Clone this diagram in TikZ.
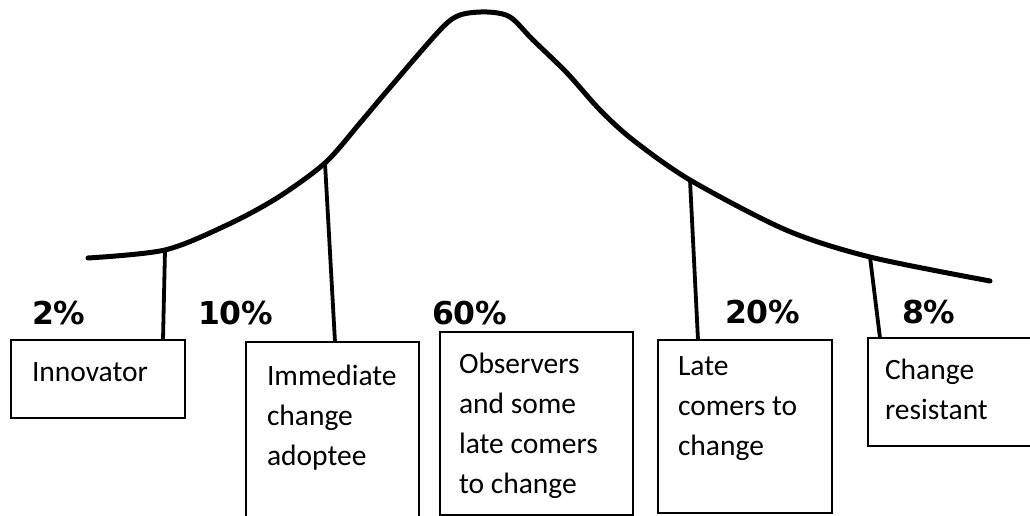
\documentclass[tikz,border=0pt]{standalone}
\usepackage{fontspec}
\setmainfont{Carlito}
\newfontfamily\pctfont{DejaVu Sans}
\begin{document}
\begin{tikzpicture}[x=1pt,y=1pt,
  curveLine/.style={draw=drawColor,line width= 5.0pt,line join=round,line cap=round},
  linkLine/.style={draw=drawColor,line width= 3.8pt},
  groupBox/.style={draw=drawColor,fill=fillColor,line width= 1.6pt,anchor=north west,inner sep=0pt,outer sep=0pt},
  groupText/.style={text=drawColor,anchor=north west,align=left,inner sep=0pt,outer sep=0pt,font=\fontsize{29.5}{40}\selectfont},
  shareText/.style={text=drawColor,anchor=base west,inner sep=0pt,outer sep=0pt,font=\pctfont\bfseries\fontsize{31.5}{36}\selectfont}]
\definecolor{drawColor}{RGB}{0,0,0}
\definecolor{fillColor}{RGB}{255,255,255}
\path[use as bounding box,fill=fillColor] (  0.00,  0.00) rectangle (1030.00,516.00);
\begin{scope}
% bell curve
\path[curveLine] plot[smooth] coordinates {( 88.00,258.00) (165.00,266.00) (227.00,291.00) (277.00,318.00) (325.00,353.00) (360.00,393.00) (387.00,425.00) (440.00,486.00) (460.00,501.00) (487.00,504.00) (510.00,499.00) (533.00,476.00) (567.00,443.00) (600.00,406.00) (633.00,376.00) (690.00,336.00) (786.00,286.00) (870.00,259.00) (990.00,235.00)};
\end{scope}
\coordinate (innTop) at (165.00,266.00);
\coordinate (immTop) at (325.00,353.00);
\coordinate (lateTop) at (690.00,336.00);
\coordinate (resTop) at (870.00,259.00);
\coordinate (innFoot) at (163.00,176.00);
\coordinate (immFoot) at (335.00,174.00);
\coordinate (lateFoot) at (698.00,176.00);
\coordinate (resFoot) at (880.00,178.00);
\begin{scope}
\path[linkLine] (innTop) -- (innFoot);
\path[linkLine] (immTop) -- (immFoot);
\path[linkLine] (lateTop) -- (lateFoot);
\path[linkLine] (resTop) -- (resFoot);
\end{scope}
\begin{scope}
\node[groupBox,minimum width=174pt,minimum height= 78pt] (innBox) at ( 11.00,176.00) {};
\node[groupBox,minimum width=173pt,minimum height=195pt] (immBox) at (246.00,174.00) {};
\node[groupBox,minimum width=193pt,minimum height=183pt] (obsBox) at (440.00,184.00) {};
\node[groupBox,minimum width=174pt,minimum height=173pt] (lateBox) at (658.00,176.00) {};
\node[groupBox,minimum width=170pt,minimum height=108pt] (resBox) at (868.00,178.00) {};
\end{scope}
\begin{scope}
\node[groupText] (innText) at ( 32.00,162.00) {\strut Innovator};
\node[groupText] (immText) at (267.00,158.00) {\strut Immediate\\change\\adoptee};
\node[groupText] (obsText) at (459.00,170.00) {\strut Observers\\and some\\late comers\\to change};
\node[groupText] (lateText) at (678.00,168.00) {\strut Late\\comers to\\change};
\node[groupText] (resText) at (885.00,164.00) {\strut Change\\resistant};
\end{scope}
\begin{scope}
\node[shareText] (innShare) at ( 32.00,191.00) {2\%};
\node[shareText] (immShare) at (198.00,191.00) {10\%};
\node[shareText] (obsShare) at (432.00,191.00) {60\%};
\node[shareText] (lateShare) at (725.00,192.00) {20\%};
\node[shareText] (resShare) at (902.00,192.00) {8\%};
\end{scope}
\end{tikzpicture}
\end{document}
